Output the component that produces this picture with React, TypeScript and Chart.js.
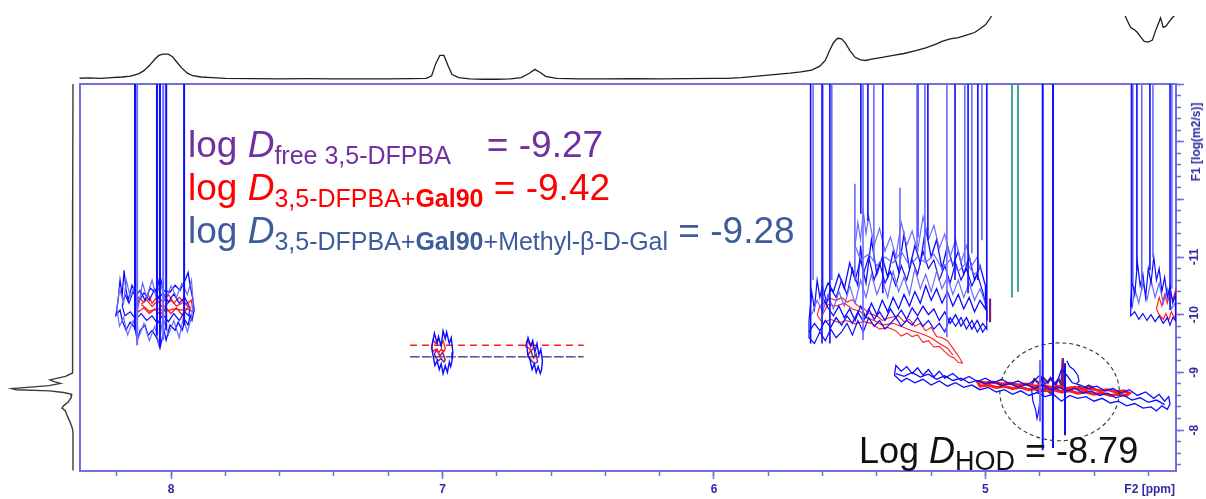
import React, { useEffect, useRef } from "react";
import { Chart, registerables } from "chart.js";
Chart.register(...registerables);

// ---------- axis ranges ----------
const PPM_LEFT = 8.337;
const PPM_RIGHT = 4.298;
const LOGD_TOP = -14.0;
const LOGD_BOTTOM = -7.29;
const X_MAJOR_STEP = 1;
const X_MINOR_STEP = 0.2;
const Y_MAJOR_STEP = 1;
const Y_MINOR_STEP = 0.2;
const Y_LABELED_FROM = -11;

// ---------- 1D projection (top, F2) ----------
const TOP_PPM = [8.34, 8.3, 8.26, 8.22, 8.18, 8.15, 8.12, 8.1, 8.08, 8.06, 8.045, 8.03, 8.01, 7.995, 7.98, 7.96, 7.94, 7.92, 7.89, 7.85, 7.8, 7.7, 7.6, 7.5, 7.4, 7.3, 7.2, 7.12, 7.06, 7.04, 7.025, 7.01, 6.995, 6.98, 6.965, 6.94, 6.9, 6.85, 6.8, 6.75, 6.71, 6.68, 6.66, 6.64, 6.62, 6.58, 6.5, 6.4, 6.3, 6.2, 6.1, 6.0, 5.95, 5.9, 5.85, 5.8, 5.75, 5.72, 5.68, 5.64, 5.61, 5.59, 5.575, 5.56, 5.545, 5.53, 5.515, 5.5, 5.48, 5.46, 5.44, 5.42, 5.38, 5.34, 5.3, 5.26, 5.22, 5.18, 5.16, 5.13, 5.1, 5.07, 5.04, 5.02, 5.0, 4.98, 4.96, 4.9, 4.79, 4.55, 4.49, 4.48, 4.465, 4.45, 4.44, 4.43, 4.415, 4.4, 4.385, 4.375, 4.365, 4.355, 4.345, 4.335, 4.325, 4.31, 4.3];
const TOP_INT = [0.02, 0.025, 0.018, 0.03, 0.04, 0.055, 0.09, 0.14, 0.22, 0.32, 0.38, 0.4, 0.4, 0.36, 0.28, 0.18, 0.1, 0.06, 0.04, 0.03, 0.02, 0.015, 0.012, 0.015, 0.01, 0.012, 0.01, 0.015, 0.02, 0.06, 0.25, 0.38, 0.38, 0.22, 0.08, 0.03, 0.01, 0.005, 0.005, 0.01, 0.03, 0.1, 0.16, 0.11, 0.05, 0.02, 0.01, 0.01, 0.015, 0.01, 0.015, 0.02, 0.02, 0.03, 0.05, 0.07, 0.09, 0.1, 0.12, 0.15, 0.21, 0.3, 0.45, 0.58, 0.65, 0.64, 0.57, 0.46, 0.35, 0.31, 0.3, 0.32, 0.35, 0.38, 0.41, 0.45, 0.5, 0.56, 0.6, 0.64, 0.66, 0.7, 0.74, 0.8, 0.86, 0.98, 1.3, 3, 10, 3, 1.05, 0.95, 0.82, 0.78, 0.74, 0.68, 0.6, 0.59, 0.62, 0.75, 0.86, 0.97, 0.82, 0.84, 0.9, 0.98, 1.02];

// ---------- 1D projection (left, F1) ----------
const SIDE_LOGD = [-14, -12, -10, -9.2, -8.99, -8.93, -8.87, -8.84, -8.81, -8.77, -8.72, -8.7, -8.68, -8.65, -8.62, -8.56, -8.48, -8.42, -8.38, -8.33, -8.27, -8.22, -8.12, -8.03, -7.95, -7.3];
const SIDE_INT = [0, 0.005, 0.004, 0.006, 0.01, 0.12, 0.365, 0.3, 0.2, 0.38, 0.97, 0.9, 0.37, 0.15, 0.02, 0.03, 0.08, 0.15, 0.175, 0.12, 0.1, 0.08, 0.04, 0.01, 0, 0];

type P = [number, number];

// ---------- DOSY contours: aromatic 8.0 ppm ----------
const L_STREAK_PPM = [8.133, 8.125, 8.052, 8.041, 8.029, 8.018, 7.952];
const L_STREAK_END = [-9.73, -9.47, -9.64, -9.47, -9.56, -9.73, -9.82];
const L_BLUE_A: P[] = [[8.195, -10.25], [8.188, -10.6], [8.18, -10.34], [8.173, -10.77], [8.166, -10.42], [8.158, -10.25], [8.144, -10.51], [8.129, -10.34], [8.114, -10.42], [8.096, -10.25], [8.077, -10.46], [8.059, -10.39], [8.048, -10.51], [8.041, -10.68], [8.029, -10.42], [8.004, -10.39], [7.985, -10.51], [7.967, -10.42], [7.948, -10.6], [7.937, -10.73], [7.93, -10.51], [7.919, -10.25], [7.915, -10.08], [7.923, -9.9], [7.93, -9.99], [7.937, -9.82], [7.948, -9.9], [7.959, -9.73], [7.974, -9.87], [7.985, -9.73], [8.004, -9.82], [8.018, -9.56], [8.026, -9.73], [8.041, -9.42], [8.052, -9.59], [8.07, -9.73], [8.085, -9.64], [8.096, -9.82], [8.114, -9.73], [8.125, -9.56], [8.133, -9.77], [8.151, -9.87], [8.166, -9.73], [8.18, -9.9], [8.188, -10.08], [8.203, -9.99], [8.195, -10.25]];
const L_BLUE_B: P[] = [[8.18, -10.15], [8.17, -10.35], [8.155, -10.2], [8.14, -10.4], [8.12, -10.22], [8.1, -10.38], [8.08, -10.25], [8.06, -10.45], [8.045, -10.28], [8.03, -10.38], [8.01, -10.22], [7.99, -10.36], [7.97, -10.2], [7.95, -10.3], [7.93, -10.12], [7.935, -9.98], [7.95, -10.05], [7.97, -9.9], [7.99, -10.02], [8.01, -9.88], [8.03, -10.0], [8.05, -9.85], [8.07, -9.98], [8.09, -9.9], [8.11, -10.02], [8.13, -9.92], [8.15, -10.05], [8.17, -9.98], [8.18, -10.15]];
const L_BLUE_C: P[] = [[8.2, -10.1], [8.19, -10.45], [8.175, -10.2], [8.165, -10.6], [8.15, -10.3], [8.135, -10.5], [8.12, -10.15], [8.105, -10.55], [8.09, -10.3], [8.07, -10.6], [8.055, -10.3], [8.04, -10.55], [8.02, -10.25], [8.0, -10.5], [7.98, -10.3], [7.96, -10.55], [7.94, -10.35], [7.925, -10.6], [7.918, -10.2], [7.925, -9.95], [7.94, -9.7], [7.955, -9.95], [7.97, -9.6], [7.99, -9.9], [8.01, -9.65], [8.03, -9.95], [8.045, -9.5], [8.06, -9.8], [8.08, -9.55], [8.1, -9.85], [8.12, -9.6], [8.14, -9.9], [8.16, -9.65], [8.175, -9.95], [8.19, -9.8], [8.2, -10.1]];
const L_RED_A: P[] = [[8.13, -10.15], [8.12, -10.3], [8.1, -10.22], [8.085, -10.35], [8.07, -10.2], [8.05, -10.32], [8.03, -10.22], [8.01, -10.35], [7.99, -10.2], [7.97, -10.3], [7.945, -10.18], [7.925, -10.25], [7.92, -10.05], [7.94, -10.1], [7.96, -10.0], [7.98, -10.12], [8.0, -10.02], [8.02, -10.12], [8.04, -10.0], [8.06, -10.1], [8.08, -10.02], [8.1, -10.12], [8.12, -10.05], [8.13, -10.15]];
const L_RED_B: P[] = [[8.11, -10.18], [8.09, -10.26], [8.07, -10.14], [8.05, -10.24], [8.03, -10.12], [8.0, -10.25], [7.98, -10.15], [7.95, -10.22], [7.935, -10.12], [7.96, -10.08], [7.99, -10.1], [8.02, -10.06], [8.05, -10.1], [8.08, -10.06], [8.11, -10.18]];

// ---------- DOSY contours: 7.0 and 6.66 ppm ----------
const C1_BLUE: P[] = [[7.035, -9.55], [7.03, -9.68], [7.02, -9.5], [7.015, -9.62], [7.005, -9.45], [6.998, -9.72], [6.99, -9.58], [6.985, -9.7], [6.975, -9.5], [6.968, -9.6], [6.962, -9.35], [6.965, -9.2], [6.97, -9.1], [6.975, -9.18], [6.982, -9.0], [6.99, -9.12], [6.998, -8.98], [7.005, -9.15], [7.012, -9.05], [7.02, -9.2], [7.028, -9.12], [7.035, -9.3], [7.04, -9.42], [7.035, -9.55]];
const C1_RED: P[] = [[7.04, -9.45], [7.035, -9.56], [7.025, -9.5], [7.015, -9.58], [7.005, -9.48], [6.998, -9.55], [6.99, -9.42], [6.995, -9.36], [7.005, -9.4], [7.015, -9.34], [7.025, -9.4], [7.035, -9.36], [7.04, -9.45]];
const C1_PURPLE: P[] = [[7.03, -9.32], [7.02, -9.4], [7.01, -9.28], [7.0, -9.35], [6.99, -9.22], [6.995, -9.18], [7.005, -9.24], [7.015, -9.2], [7.025, -9.26], [7.03, -9.32]];
const C2_BLUE: P[] = [[6.69, -9.5], [6.685, -9.6], [6.675, -9.45], [6.668, -9.55], [6.66, -9.35], [6.652, -9.5], [6.645, -9.3], [6.638, -9.4], [6.632, -9.2], [6.635, -9.05], [6.64, -8.98], [6.648, -9.1], [6.655, -9.0], [6.662, -9.15], [6.67, -9.05], [6.678, -9.22], [6.686, -9.3], [6.69, -9.5]];
const C2_RED: P[] = [[6.695, -9.45], [6.688, -9.55], [6.678, -9.48], [6.668, -9.52], [6.665, -9.42], [6.672, -9.38], [6.682, -9.42], [6.695, -9.45]];
const C2_PURPLE: P[] = [[6.685, -9.3], [6.675, -9.38], [6.665, -9.25], [6.655, -9.32], [6.65, -9.18], [6.66, -9.15], [6.672, -9.2], [6.685, -9.3]];
const DASH_PPM = [7.12, 6.48];
const DASH_RED_LOGD = -9.47;
const DASH_BLUE_LOGD = -9.27;

// ---------- DOSY contours: 5.0-5.65 ppm ----------
const R_STREAK_PPM = [5.644, 5.635, 5.602, 5.599, 5.573, 5.566, 5.459, 5.451, 5.433, 5.411, 5.378, 5.252, 5.249, 5.223, 5.212, 5.142, 5.112, 5.076, 5.064, 5.05, 5.028, 5.013, 4.995];
const R_STREAK_END = [-9.5, -10.6, -9.5, -10.02, -9.5, -10.6, -11.75, -9.56, -11.63, -10.94, -10.37, -11.17, -11.34, -10.94, -11.29, -9.61, -10.6, -10.89, -10.37, -11.06, -10.6, -11.29, -9.9];
const R_SHORT_PPM = [5.481, 5.315];
const R_SHORT_TOP = [-12.27, -12.2];
const R_SHORT_END = [-10.6, -10.82];
const R_BLUE_A: P[] = [[5.65, -9.9], [5.64, -10.4], [5.63, -10.1], [5.62, -10.6], [5.61, -10.3], [5.6, -10.5], [5.585, -10.2], [5.57, -10.45], [5.55, -10.3], [5.53, -10.6], [5.51, -10.35], [5.49, -10.8], [5.47, -10.5], [5.46, -11.2], [5.45, -10.7], [5.43, -11.0], [5.41, -10.6], [5.39, -10.9], [5.37, -10.55], [5.35, -10.75], [5.33, -10.5], [5.31, -10.85], [5.29, -10.6], [5.27, -10.95], [5.25, -10.7], [5.23, -11.1], [5.21, -10.8], [5.19, -10.95], [5.17, -10.6], [5.15, -10.85], [5.13, -10.55], [5.11, -10.9], [5.09, -10.6], [5.07, -10.8], [5.05, -10.5], [5.03, -10.7], [5.01, -10.4], [4.995, -10.1], [4.995, -9.75], [5.01, -9.85], [5.03, -9.7], [5.05, -9.9], [5.07, -9.75], [5.09, -9.95], [5.11, -9.8], [5.13, -9.95], [5.15, -9.7], [5.17, -9.85], [5.19, -9.75], [5.21, -9.9], [5.23, -9.8], [5.25, -9.95], [5.27, -9.82], [5.29, -9.9], [5.31, -9.8], [5.33, -9.95], [5.35, -9.85], [5.37, -9.75], [5.39, -9.9], [5.41, -9.8], [5.43, -9.95], [5.45, -9.7], [5.47, -9.9], [5.49, -9.65], [5.51, -9.85], [5.53, -9.7], [5.55, -9.6], [5.57, -9.75], [5.59, -9.55], [5.61, -9.7], [5.63, -9.5], [5.65, -9.6], [5.65, -9.9]];
const R_BLUE_B: P[] = [[5.6, -10.3], [5.58, -10.55], [5.56, -10.4], [5.54, -10.7], [5.52, -10.45], [5.5, -10.9], [5.48, -10.6], [5.46, -10.95], [5.44, -10.55], [5.42, -11.3], [5.4, -10.7], [5.38, -11.0], [5.36, -10.65], [5.34, -11.1], [5.32, -10.75], [5.3, -11.4], [5.28, -10.8], [5.26, -11.2], [5.24, -10.9], [5.22, -11.5], [5.2, -11.0], [5.18, -11.3], [5.16, -10.8], [5.14, -11.2], [5.12, -10.85], [5.1, -11.1], [5.08, -10.7], [5.06, -11.0], [5.04, -10.6], [5.02, -10.85], [5.0, -10.5], [5.0, -10.1], [5.02, -10.25], [5.04, -10.05], [5.06, -10.3], [5.08, -10.1], [5.1, -10.35], [5.12, -10.15], [5.14, -10.4], [5.16, -10.2], [5.18, -10.45], [5.2, -10.25], [5.22, -10.5], [5.24, -10.2], [5.26, -10.4], [5.28, -10.15], [5.3, -10.35], [5.32, -10.1], [5.34, -10.3], [5.36, -10.05], [5.38, -10.25], [5.4, -10.0], [5.42, -10.2], [5.44, -9.95], [5.46, -10.15], [5.48, -9.9], [5.5, -10.1], [5.52, -9.95], [5.54, -10.15], [5.56, -9.98], [5.58, -10.12], [5.6, -10.3]];
const R_BLUE_C: P[] = [[5.48, -11.2], [5.47, -11.6], [5.46, -11.3], [5.45, -11.8], [5.44, -11.4], [5.43, -11.7], [5.41, -11.2], [5.39, -11.5], [5.37, -11.1], [5.35, -11.35], [5.33, -11.0], [5.31, -11.6], [5.29, -11.2], [5.27, -11.45], [5.25, -11.1], [5.23, -11.7], [5.21, -11.3], [5.19, -11.55], [5.17, -11.15], [5.15, -11.4], [5.13, -11.0], [5.11, -11.3], [5.09, -10.9], [5.07, -11.2], [5.05, -10.85], [5.03, -11.0], [5.02, -10.8], [5.04, -10.7], [5.07, -10.9], [5.1, -10.75], [5.13, -10.95], [5.16, -10.8], [5.19, -11.05], [5.22, -10.9], [5.25, -11.0], [5.28, -10.85], [5.31, -11.1], [5.34, -10.9], [5.37, -11.0], [5.4, -10.85], [5.43, -11.05], [5.46, -10.95], [5.48, -11.2]];
const R_BLUE_D: P[] = [[5.65, -9.7], [5.63, -9.85], [5.61, -9.72], [5.59, -9.9], [5.57, -9.78], [5.55, -9.95], [5.53, -9.82], [5.51, -9.98], [5.49, -9.85], [5.47, -10.05], [5.45, -9.88], [5.43, -10.1], [5.41, -9.92], [5.39, -10.05], [5.37, -9.9], [5.35, -10.1], [5.33, -9.95], [5.31, -10.08], [5.29, -9.92], [5.27, -10.12], [5.25, -9.98], [5.23, -10.15], [5.21, -10.0], [5.19, -10.1], [5.17, -9.9], [5.15, -10.05], [5.13, -9.85], [5.11, -10.0], [5.09, -9.8], [5.07, -9.95], [5.05, -9.75], [5.03, -9.9], [5.01, -9.7], [4.995, -9.8]];
const R_BLUE_E: P[] = [[5.64, -10.0], [5.62, -10.25], [5.6, -10.05], [5.58, -10.35], [5.56, -10.1], [5.54, -10.4], [5.52, -10.15], [5.5, -10.5], [5.48, -10.2], [5.46, -10.6], [5.44, -10.3], [5.42, -10.7], [5.4, -10.35], [5.38, -10.6], [5.36, -10.3], [5.34, -10.75], [5.32, -10.4], [5.3, -10.65], [5.28, -10.35], [5.26, -10.8], [5.24, -10.45], [5.22, -10.7], [5.2, -10.4], [5.18, -10.75], [5.16, -10.45], [5.14, -10.65], [5.12, -10.35], [5.1, -10.6], [5.08, -10.3], [5.06, -10.55], [5.04, -10.25], [5.02, -10.45], [5.0, -10.2]];
const R_RED_A: P[] = [[5.62, -10.0], [5.61, -10.15], [5.59, -10.22], [5.57, -10.28], [5.55, -10.25], [5.53, -10.3], [5.51, -10.22], [5.49, -10.26], [5.47, -10.15], [5.45, -10.12], [5.43, -10.02], [5.4, -9.98], [5.38, -9.9], [5.35, -9.95], [5.32, -9.98], [5.3, -9.88], [5.28, -9.92], [5.26, -9.8], [5.24, -9.85], [5.22, -9.72], [5.2, -9.78], [5.18, -9.62], [5.16, -9.6], [5.14, -9.55], [5.12, -9.42], [5.11, -9.35], [5.095, -9.25], [5.085, -9.16], [5.1, -9.17], [5.115, -9.25], [5.13, -9.28], [5.15, -9.36], [5.17, -9.45], [5.19, -9.44], [5.21, -9.55], [5.23, -9.52], [5.25, -9.65], [5.27, -9.62], [5.29, -9.68], [5.31, -9.63], [5.33, -9.72], [5.36, -9.78], [5.39, -9.75], [5.42, -9.85], [5.45, -9.88], [5.48, -9.84], [5.51, -9.9], [5.54, -9.86], [5.57, -9.92], [5.6, -9.85], [5.62, -10.0]];
const R_RED_B: P[] = [[5.6, -10.0], [5.58, -10.18], [5.55, -10.15], [5.52, -10.2], [5.49, -10.1], [5.46, -10.05], [5.44, -9.95], [5.41, -9.9], [5.38, -9.82], [5.34, -9.85], [5.3, -9.78], [5.27, -9.72], [5.24, -9.68], [5.2, -9.6], [5.17, -9.5], [5.14, -9.42], [5.12, -9.3]];
const R_PURPLE: P[] = [[4.983, -10.28], [4.983, -9.87]];
const TEAL_PPM = [4.902, 4.88];
const TEAL_END = [-10.3, -10.4];

// ---------- DOSY contours: HOD (4.7 ppm) ----------
const HOD_VERT_PPM = [4.789, 4.751, 4.707, 4.799];
const HOD_VERT_TOP = [-14, -14, -9.16, -9.21];
const HOD_VERT_END = [-7.65, -7.69, -7.91, -8.15];
const HOD_BLUE_A: P[] = [[5.335, -8.95], [5.33, -9.12], [5.31, -9.02], [5.29, -9.1], [5.27, -8.98], [5.25, -9.08], [5.23, -8.95], [5.21, -9.05], [5.19, -8.92], [5.17, -9.02], [5.15, -8.9], [5.12, -8.98], [5.09, -8.86], [5.06, -8.93], [5.03, -8.84], [5.0, -8.9], [4.97, -8.82], [4.94, -8.88], [4.91, -8.8], [4.88, -8.85], [4.85, -8.78], [4.82, -8.86], [4.8, -8.95], [4.78, -8.8], [4.76, -8.9], [4.74, -8.78], [4.72, -9.05], [4.7, -8.95], [4.68, -8.82], [4.65, -8.78], [4.62, -8.72], [4.59, -8.76], [4.56, -8.68], [4.53, -8.72], [4.5, -8.64], [4.47, -8.7], [4.44, -8.6], [4.41, -8.66], [4.38, -8.55], [4.36, -8.62], [4.34, -8.5], [4.325, -8.58], [4.32, -8.45], [4.33, -8.36], [4.35, -8.42], [4.37, -8.33], [4.39, -8.4], [4.42, -8.38], [4.45, -8.46], [4.48, -8.42], [4.51, -8.5], [4.54, -8.47], [4.57, -8.55], [4.6, -8.5], [4.63, -8.58], [4.66, -8.55], [4.69, -8.6], [4.72, -8.5], [4.75, -8.62], [4.78, -8.58], [4.81, -8.65], [4.84, -8.6], [4.87, -8.68], [4.9, -8.62], [4.93, -8.7], [4.96, -8.66], [4.99, -8.74], [5.02, -8.7], [5.05, -8.78], [5.08, -8.74], [5.11, -8.82], [5.14, -8.76], [5.17, -8.85], [5.2, -8.78], [5.23, -8.88], [5.26, -8.82], [5.29, -8.9], [5.31, -8.84], [5.335, -8.95]];
const HOD_BLUE_B: P[] = [[5.33, -8.98], [5.3, -8.93], [5.27, -9.0], [5.24, -8.92], [5.21, -8.97], [5.18, -8.88], [5.15, -8.94], [5.12, -8.86], [5.09, -8.9], [5.06, -8.82], [5.03, -8.86], [5.0, -8.8], [4.97, -8.84], [4.94, -8.77], [4.91, -8.81], [4.88, -8.74], [4.85, -8.79], [4.82, -8.72], [4.79, -8.78], [4.76, -8.7], [4.73, -8.74], [4.7, -8.68], [4.67, -8.72], [4.64, -8.64], [4.61, -8.68], [4.58, -8.6], [4.55, -8.64], [4.52, -8.56], [4.49, -8.6], [4.46, -8.52], [4.43, -8.56], [4.4, -8.48], [4.37, -8.52], [4.34, -8.44]];
const HOD_HOOK_A: P[] = [[4.7, -9.2], [4.69, -9.1], [4.675, -9.05], [4.66, -8.95], [4.655, -8.85], [4.665, -8.8]];
const HOD_HOOK_B: P[] = [[4.83, -8.7], [4.825, -8.5], [4.815, -8.35], [4.81, -8.2], [4.805, -8.3], [4.8, -8.5]];
const HOD_RED: P[] = [[5.03, -8.84], [5.0, -8.82], [4.97, -8.83], [4.94, -8.8], [4.91, -8.81], [4.88, -8.78], [4.85, -8.8], [4.82, -8.76], [4.79, -8.78], [4.76, -8.74], [4.73, -8.76], [4.7, -8.72], [4.67, -8.74], [4.64, -8.7], [4.61, -8.72], [4.58, -8.68], [4.55, -8.7], [4.52, -8.66], [4.49, -8.68], [4.47, -8.64], [4.48, -8.6], [4.51, -8.62], [4.54, -8.6], [4.57, -8.64], [4.6, -8.62], [4.63, -8.66], [4.66, -8.64], [4.69, -8.68], [4.72, -8.66], [4.75, -8.7], [4.78, -8.68], [4.81, -8.72], [4.84, -8.7], [4.87, -8.74], [4.9, -8.72], [4.93, -8.76], [4.96, -8.74], [4.99, -8.78], [5.02, -8.76], [5.03, -8.84]];
const HOD_PURPLE: P[] = [[4.83, -8.78], [4.82, -8.88], [4.8, -8.8], [4.79, -8.92], [4.77, -8.82], [4.76, -8.9], [4.745, -8.8], [4.73, -8.88], [4.72, -8.78], [4.715, -9.25], [4.712, -8.7], [4.72, -8.66], [4.74, -8.72], [4.76, -8.64], [4.78, -8.72], [4.8, -8.66], [4.82, -8.72], [4.83, -8.78]];
const HOD_PURPLE_B: P[] = [[4.66, -8.76], [4.64, -8.72], [4.62, -8.77], [4.6, -8.73]];
const HOD_GREEN: P[] = [[4.709, -8.98], [4.709, -8.7]];
const HOD_CIRCLE = { ppm: 4.727, logD: -8.663, rPpm: 0.22, rLogD: 0.848 };

// ---------- DOSY contours: 4.3-4.47 ppm ----------
const E_STREAK_PPM = [4.462, 4.457, 4.442, 4.424, 4.394, 4.383, 4.32, 4.313];
const E_STREAK_END = [-10.13, -10.54, -10.77, -10.42, -10.77, -10.99, -10.08, -10.45];
const E_BLUE: P[] = [[4.465, -10.2], [4.46, -10.6], [4.45, -10.35], [4.44, -10.9], [4.43, -10.5], [4.42, -10.7], [4.41, -10.3], [4.4, -10.8], [4.39, -10.55], [4.38, -11.0], [4.37, -10.6], [4.36, -10.8], [4.35, -10.4], [4.34, -10.65], [4.33, -10.3], [4.32, -10.5], [4.31, -10.2], [4.3, -10.35], [4.3, -9.9], [4.31, -9.95], [4.32, -9.82], [4.33, -9.95], [4.345, -9.85], [4.36, -9.98], [4.375, -9.88], [4.39, -10.0], [4.405, -9.9], [4.42, -10.02], [4.435, -9.92], [4.45, -10.05], [4.465, -9.98], [4.465, -10.2]];
const E_BLUE_B: P[] = [[4.46, -10.1], [4.45, -10.45], [4.435, -10.2], [4.42, -10.55], [4.405, -10.25], [4.39, -10.6], [4.375, -10.3], [4.36, -10.55], [4.345, -10.2], [4.33, -10.45], [4.315, -10.1], [4.3, -10.2]];
const E_RED: P[] = [[4.37, -10.1], [4.36, -10.3], [4.35, -10.15], [4.34, -10.35], [4.33, -10.2], [4.32, -10.38], [4.31, -10.25], [4.3, -10.42], [4.298, -10.0], [4.305, -9.95], [4.315, -10.05], [4.325, -9.9], [4.335, -10.02], [4.345, -9.92], [4.36, -10.0], [4.37, -10.1]];

// ---------- styles ----------
const FONT = '"Liberation Sans", Arial, sans-serif';
const AXIS = "#6f6fe0";
const AXIS_TEXT = "#2c2ca0";
const BLUE = "#0c0cff";
const BLUE_L = "#6a6aff";
const RED = "#ff1c1c";
const PURPLE = "#7a1f7a";
const TEAL = "#2a9d8f";

Chart.defaults.font.family = FONT;

const line = (pts: P[], color: string, width = 1, extra: any = {}) => ({
  data: pts.map(([x, y]) => ({ x, y })),
  showLine: true,
  borderColor: color,
  backgroundColor: color,
  borderWidth: width,
  pointRadius: 0,
  fill: false,
  tension: 0,
  ...extra,
});

const vlines = (ppms: number[], tops: number[] | number, ends: number[], colors: string[], width = 1.4) =>
  ppms.map((p, i) =>
    line([[p, Array.isArray(tops) ? tops[i] : tops], [p, ends[i]]], colors[i % colors.length], width)
  );

const hodCircle = {
  id: "hodCircle",
  afterDatasetsDraw(chart: any) {
    const { ctx, scales } = chart;
    const x = scales.x, y = scales.y;
    const cx = x.getPixelForValue(HOD_CIRCLE.ppm);
    const cy = y.getPixelForValue(HOD_CIRCLE.logD);
    const rx = Math.abs(x.getPixelForValue(HOD_CIRCLE.ppm + HOD_CIRCLE.rPpm) - cx);
    const ry = Math.abs(y.getPixelForValue(HOD_CIRCLE.logD + HOD_CIRCLE.rLogD) - cy);
    ctx.save();
    ctx.setLineDash([4, 3]);
    ctx.strokeStyle = "#333";
    ctx.lineWidth = 1.1;
    ctx.beginPath();
    ctx.ellipse(cx, cy, rx, ry, 0, 0, Math.PI * 2);
    ctx.stroke();
    ctx.restore();
  },
};

const tickFont = { family: FONT, size: 12, weight: "bold" as const };

function mainConfig(): any {
  const datasets: any[] = [
    ...vlines(L_STREAK_PPM, LOGD_TOP, L_STREAK_END, [BLUE, BLUE_L, BLUE, BLUE, BLUE_L, BLUE, BLUE], 2),
    line(L_BLUE_C, BLUE_L, 1.2),
    line(L_BLUE_A, BLUE, 1.3),
    line(L_BLUE_B, BLUE, 1.2),
    ...vlines(R_STREAK_PPM, LOGD_TOP, R_STREAK_END, [BLUE, BLUE_L], 1.6),
    ...vlines(R_SHORT_PPM, R_SHORT_TOP, R_SHORT_END, [BLUE_L], 1.6),
    line(R_BLUE_C, BLUE_L, 1.2),
    line(R_BLUE_B, BLUE, 1.3),
    line(R_BLUE_E, BLUE_L, 1.2),
    line(R_BLUE_A, BLUE, 1.2),
    line(R_BLUE_D, BLUE, 1.3),
    ...vlines(E_STREAK_PPM, LOGD_TOP, E_STREAK_END, [BLUE, BLUE_L], 1.6),
    line(E_BLUE, BLUE, 1.2),
    line(E_BLUE_B, BLUE_L, 1.2),
    ...vlines(HOD_VERT_PPM, HOD_VERT_TOP, HOD_VERT_END, [BLUE, BLUE, BLUE, BLUE_L], 2),
    line(HOD_BLUE_A, BLUE, 1.3),
    line(HOD_BLUE_B, BLUE, 1.3),
    line(HOD_HOOK_A, BLUE, 1.2),
    line(HOD_HOOK_B, BLUE, 1.2),
    line(C1_BLUE, BLUE, 1.4),
    line(C2_BLUE, BLUE, 1.4),
    ...vlines(TEAL_PPM, LOGD_TOP, TEAL_END, [TEAL], 1.8),
    line(L_RED_A, RED, 1.3),
    line(L_RED_B, RED, 1.3),
    line(R_RED_A, RED, 1.1),
    line(R_RED_B, RED, 1.1),
    line(E_RED, RED, 1.2),
    line(HOD_RED, RED, 3),
    line(C1_RED, RED, 1.4),
    line(C2_RED, RED, 1.4),
    line(C1_PURPLE, PURPLE, 1.4),
    line(C2_PURPLE, PURPLE, 1.4),
    line(R_PURPLE, PURPLE, 2.2),
    line(HOD_PURPLE, PURPLE, 2.4),
    line(HOD_PURPLE_B, PURPLE, 2.4),
    line(HOD_GREEN, "#33aa55", 1.2),
    line([[DASH_PPM[0], DASH_RED_LOGD], [DASH_PPM[1], DASH_RED_LOGD]], RED, 1.6, { borderDash: [7, 5] }),
    line([[DASH_PPM[0], DASH_BLUE_LOGD], [DASH_PPM[1], DASH_BLUE_LOGD]], "#3d5a99", 1.6, { borderDash: [7, 5] }),
    line([[DASH_PPM[0], DASH_BLUE_LOGD], [DASH_PPM[1], DASH_BLUE_LOGD]], "#7a3aa0", 1.2, { borderDash: [4, 8], borderDashOffset: 6 }),
  ];

  const xCommon = { type: "linear", reverse: true, min: PPM_RIGHT, max: PPM_LEFT };
  const yCommon = { type: "linear", reverse: true, min: LOGD_TOP, max: LOGD_BOTTOM };

  return {
    type: "scatter",
    data: { datasets },
    options: {
      animation: false,
      responsive: false,
      maintainAspectRatio: false,
      events: [],
      layout: { padding: { left: 79.6, top: 84, right: 0, bottom: 0 } },
      plugins: { legend: { display: false }, tooltip: { enabled: false }, title: { display: false } },
      scales: {
        x: {
          ...xCommon,
          position: "bottom",
          weight: 1,
          ticks: { stepSize: X_MAJOR_STEP, includeBounds: false, autoSkip: false, color: AXIS_TEXT, font: tickFont, padding: 3, maxRotation: 0, callback: (v: number) => String(v) },
          grid: { display: true, drawOnChartArea: false, drawTicks: true, tickLength: 8, color: AXIS, tickWidth: 1.5 },
          border: { display: true, color: AXIS, width: 2 },
          afterFit: (s: any) => { s.height = 28; },
        },
        xMinor: {
          ...xCommon,
          position: "bottom",
          weight: 0,
          ticks: { stepSize: X_MINOR_STEP, includeBounds: false, display: false },
          grid: { display: true, drawOnChartArea: false, drawTicks: true, tickLength: 5, color: AXIS, tickWidth: 1.5 },
          border: { display: false },
          afterFit: (s: any) => { s.height = 0; },
        },
        xTop: {
          ...xCommon,
          position: "top",
          ticks: { display: false },
          grid: { display: false },
          border: { display: true, color: AXIS, width: 2 },
          afterFit: (s: any) => { s.height = 0; },
        },
        y: {
          ...yCommon,
          position: "right",
          weight: 1,
          ticks: {
            stepSize: Y_MAJOR_STEP, includeBounds: false, autoSkip: false, color: AXIS_TEXT, font: tickFont, padding: 2,
            minRotation: 90, maxRotation: 90, crossAlign: "center",
            callback: (v: number) => (v >= Y_LABELED_FROM ? String(v) : ""),
          },
          grid: { display: true, drawOnChartArea: false, drawTicks: true, tickLength: 8, color: AXIS, tickWidth: 1.5 },
          border: { display: true, color: AXIS, width: 2 },
          afterFit: (s: any) => { s.width = 30; },
        },
        yMinor: {
          ...yCommon,
          position: "right",
          weight: 0,
          ticks: { stepSize: Y_MINOR_STEP, includeBounds: false, display: false },
          grid: { display: true, drawOnChartArea: false, drawTicks: true, tickLength: 5, color: AXIS, tickWidth: 1.5 },
          border: { display: false },
          afterFit: (s: any) => { s.width = 0; },
        },
        yLeft: {
          ...yCommon,
          position: "left",
          ticks: { display: false },
          grid: { display: false },
          border: { display: true, color: AXIS, width: 2 },
          afterFit: (s: any) => { s.width = 0; },
        },
      },
    },
    plugins: [hodCircle],
  };
}

function topConfig(): any {
  return {
    type: "scatter",
    data: {
      datasets: [line(TOP_PPM.map((p, i) => [p, TOP_INT[i]] as P), "#1e1e1e", 1.3)],
    },
    options: {
      animation: false,
      responsive: false,
      maintainAspectRatio: false,
      events: [],
      layout: { padding: { left: 79.6, right: 30, top: 16, bottom: 0 } },
      plugins: { legend: { display: false }, tooltip: { enabled: false } },
      scales: {
        x: { type: "linear", reverse: true, min: PPM_RIGHT, max: PPM_LEFT, display: false },
        y: { type: "linear", min: -0.07, max: 1, display: false },
      },
    },
  };
}

function sideConfig(): any {
  return {
    type: "scatter",
    data: {
      datasets: [line(SIDE_LOGD.map((d, i) => [SIDE_INT[i], d] as P), "#3a3a3a", 1.4, { clip: false })],
    },
    options: {
      animation: false,
      responsive: false,
      maintainAspectRatio: false,
      events: [],
      layout: { padding: { left: 0, right: 7, top: 84, bottom: 28 } },
      plugins: { legend: { display: false }, tooltip: { enabled: false } },
      scales: {
        x: { type: "linear", reverse: true, min: 0, max: 1.16, display: false },
        y: { type: "linear", reverse: true, min: LOGD_TOP, max: LOGD_BOTTOM, display: false },
      },
    },
  };
}

const SUB: React.CSSProperties = { fontSize: 25, position: "relative", top: 7 };
const annBase: React.CSSProperties = { position: "absolute", fontFamily: FONT, fontSize: 37, lineHeight: "37px", whiteSpace: "nowrap" };
const axisTitle: React.CSSProperties = { position: "absolute", fontFamily: FONT, fontSize: 12, fontWeight: "bold", color: AXIS_TEXT, whiteSpace: "nowrap", lineHeight: "14px" };

export default function App() {
  const mainRef = useRef<HTMLCanvasElement>(null);
  const topRef = useRef<HTMLCanvasElement>(null);
  const sideRef = useRef<HTMLCanvasElement>(null);

  useEffect(() => {
    const charts = [
      new Chart(mainRef.current as HTMLCanvasElement, mainConfig()),
      new Chart(topRef.current as HTMLCanvasElement, topConfig()),
      new Chart(sideRef.current as HTMLCanvasElement, sideConfig()),
    ];
    return () => charts.forEach((c) => c.destroy());
  }, []);

  return (
    <div style={{ position: "fixed", left: 0, top: 0, width: 1206, height: 499, background: "#fff", overflow: "hidden" }}>
      <canvas ref={mainRef} width={1206} height={499} style={{ position: "absolute", left: 0, top: 0 }} />
      <canvas ref={topRef} width={1206} height={84} style={{ position: "absolute", left: 0, top: 0 }} />
      <canvas ref={sideRef} width={80} height={499} style={{ position: "absolute", left: 0, top: 0 }} />

      <div style={{ ...annBase, left: 188, top: 126, color: "#7030a0" }}>
        log <i>D</i><span style={SUB}>free 3,5-DFPBA</span><span style={{ marginLeft: 36 }}>= -9.27</span>
      </div>
      <div style={{ ...annBase, left: 188, top: 169, color: "#ff0000" }}>
        log <i>D</i><span style={SUB}>3,5-DFPBA+<b>Gal90</b></span> = -9.42
      </div>
      <div style={{ ...annBase, left: 188, top: 212, color: "#3e5c9c" }}>
        log <i>D</i><span style={SUB}>3,5-DFPBA+<b>Gal90</b>+Methyl-β-D-Gal</span> = -9.28
      </div>
      <div style={{ ...annBase, left: 859, top: 432, color: "#111", fontSize: 36 }}>
        Log <i>D</i><span style={{ ...SUB, fontSize: 27 }}>HOD</span> = -8.79
      </div>

      <div style={{ ...axisTitle, right: 31, top: 482 }}>F2 [ppm]</div>
      <div style={{ ...axisTitle, left: 1196, top: 142, transform: "translate(-50%, -50%) rotate(-90deg)" }}>
        F1 [log(m2/s)]
      </div>
    </div>
  );
}
